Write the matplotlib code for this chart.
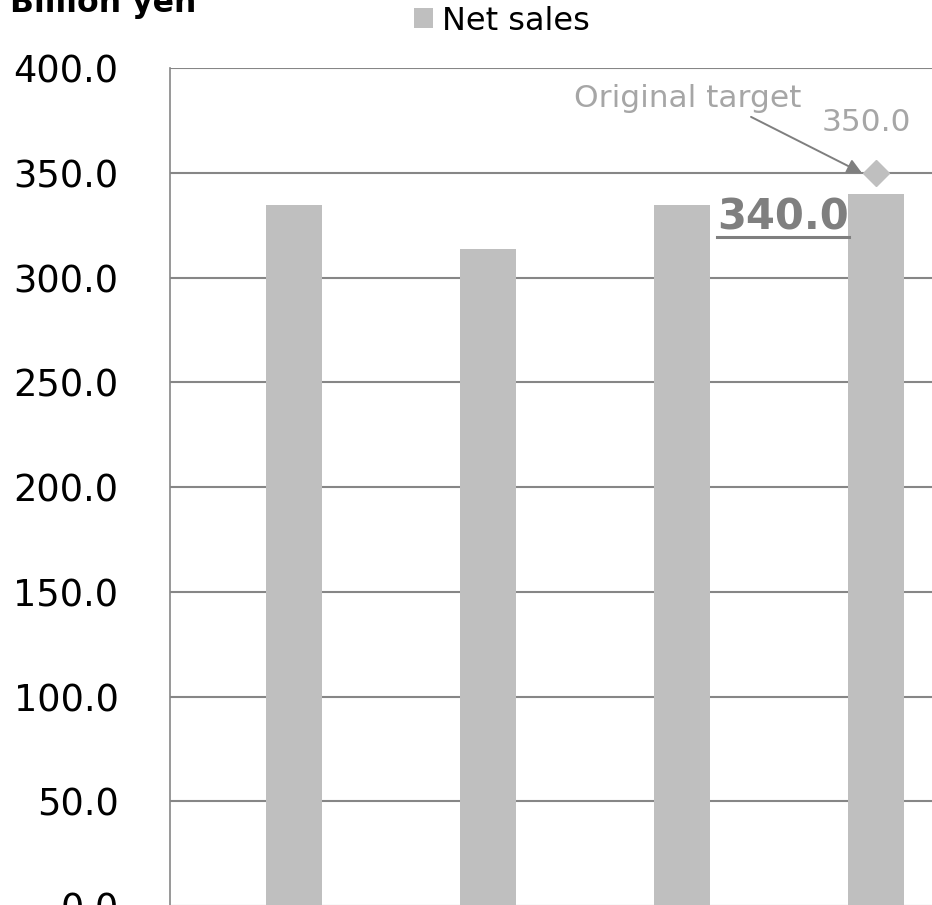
import matplotlib
matplotlib.use("Agg")
import matplotlib.pyplot as plt
import numpy as np
from matplotlib.lines import Line2D

# Net sales per period (billion yen)
net_sales = [334.6, 313.6, 334.9, 340.0]
# Original target for the latest period
target_value = 350.0
target_label = "Original target"

y_ticks = [0, 50, 100, 150, 200, 250, 300, 350, 400]

BAR = "#BFBFBF"
GRID = "#868686"
NOTE = "#A6A6A6"
DARK = "#7F7F7F"

W, H = 932, 905
fig = plt.figure(figsize=(W / 100, H / 100), dpi=100)

# axes box in pixel terms (left edge, zero line, top line)
ax_left, ax_right = 170, 932
y_zero, y_top = 906.0, 68.3
ax = fig.add_axes([ax_left / W, (H - y_zero) / H,
                   (ax_right - ax_left) / W, (y_zero - y_top) / H])

x = np.arange(len(net_sales))
bars = ax.bar(x, net_sales, width=0.284, color=BAR, zorder=3, label="Net sales")

ax.set_ylim(0, 400)
ax.set_xlim(-0.639, -0.639 + (ax_right - ax_left) / 194)
ax.set_yticks(y_ticks)
ax.set_yticklabels([f"{v:.1f}" for v in y_ticks], fontsize=26.5, color="black")
ax.tick_params(axis="y", length=0, pad=37)
ax.set_xticks([])

ax.yaxis.grid(True, color=GRID, linewidth=1.5, zorder=0)
ax.set_axisbelow(True)
for side in ("top", "right", "bottom"):
    ax.spines[side].set_visible(False)
ax.spines["left"].set_color(GRID)
ax.spines["left"].set_linewidth(1.2)
ax.spines["left"].set_zorder(4)

# target marker above the last bar
last = len(net_sales) - 1
ax.plot([last], [target_value], marker="D", markersize=13.5, color=BAR,
        linestyle="none", zorder=5, clip_on=False)
ax.text(last - 0.278, target_value + 20.1, f"{target_value:.1f}",
        fontsize=22.5, color=NOTE, ha="left", va="baseline", zorder=6)
ax.text(last - 1.556, target_value + 31.6, target_label,
        fontsize=22.5, color=NOTE, ha="left", va="baseline", zorder=6)
ax.annotate("", xy=(last - 0.072, target_value), xytext=(last - 0.644, target_value + 26.8),
            arrowprops=dict(arrowstyle="-|>", color=DARK, lw=1.4,
                            mutation_scale=22, shrinkA=0, shrinkB=0),
            zorder=6)

# value label for the latest bar, bold and underlined
val_y = net_sales[last] - 17.2
val_txt = ax.text(last - 0.139, val_y, f"{net_sales[last]:.1f}",
                  fontsize=30, fontweight="bold", color=DARK,
                  ha="right", va="baseline", zorder=6)
fig.canvas.draw()
bb = val_txt.get_window_extent(renderer=fig.canvas.get_renderer())
inv = ax.transData.inverted()
(x0, _), (x1, _) = inv.transform([(bb.x0, 0), (bb.x1, 0)])
_, y_base = ax.transData.transform((0, val_y))
_, y_ul = inv.transform((0, y_base - 7))
ax.add_line(Line2D([x0, x1], [y_ul, y_ul], color=DARK, lw=2.2, zorder=6))

# legend and unit title
fig.legend(handles=[bars], loc="center", bbox_to_anchor=(502 / W, 1 - 21 / H),
           frameon=False, fontsize=23, handlelength=0.6, handleheight=0.6,
           handletextpad=0.3, borderpad=0)
fig.text(10 / W, 1 - 11.7 / H, "Billion yen", fontsize=22.7, fontweight="bold",
         ha="left", va="baseline")

fig.savefig("out.png", dpi=100)
